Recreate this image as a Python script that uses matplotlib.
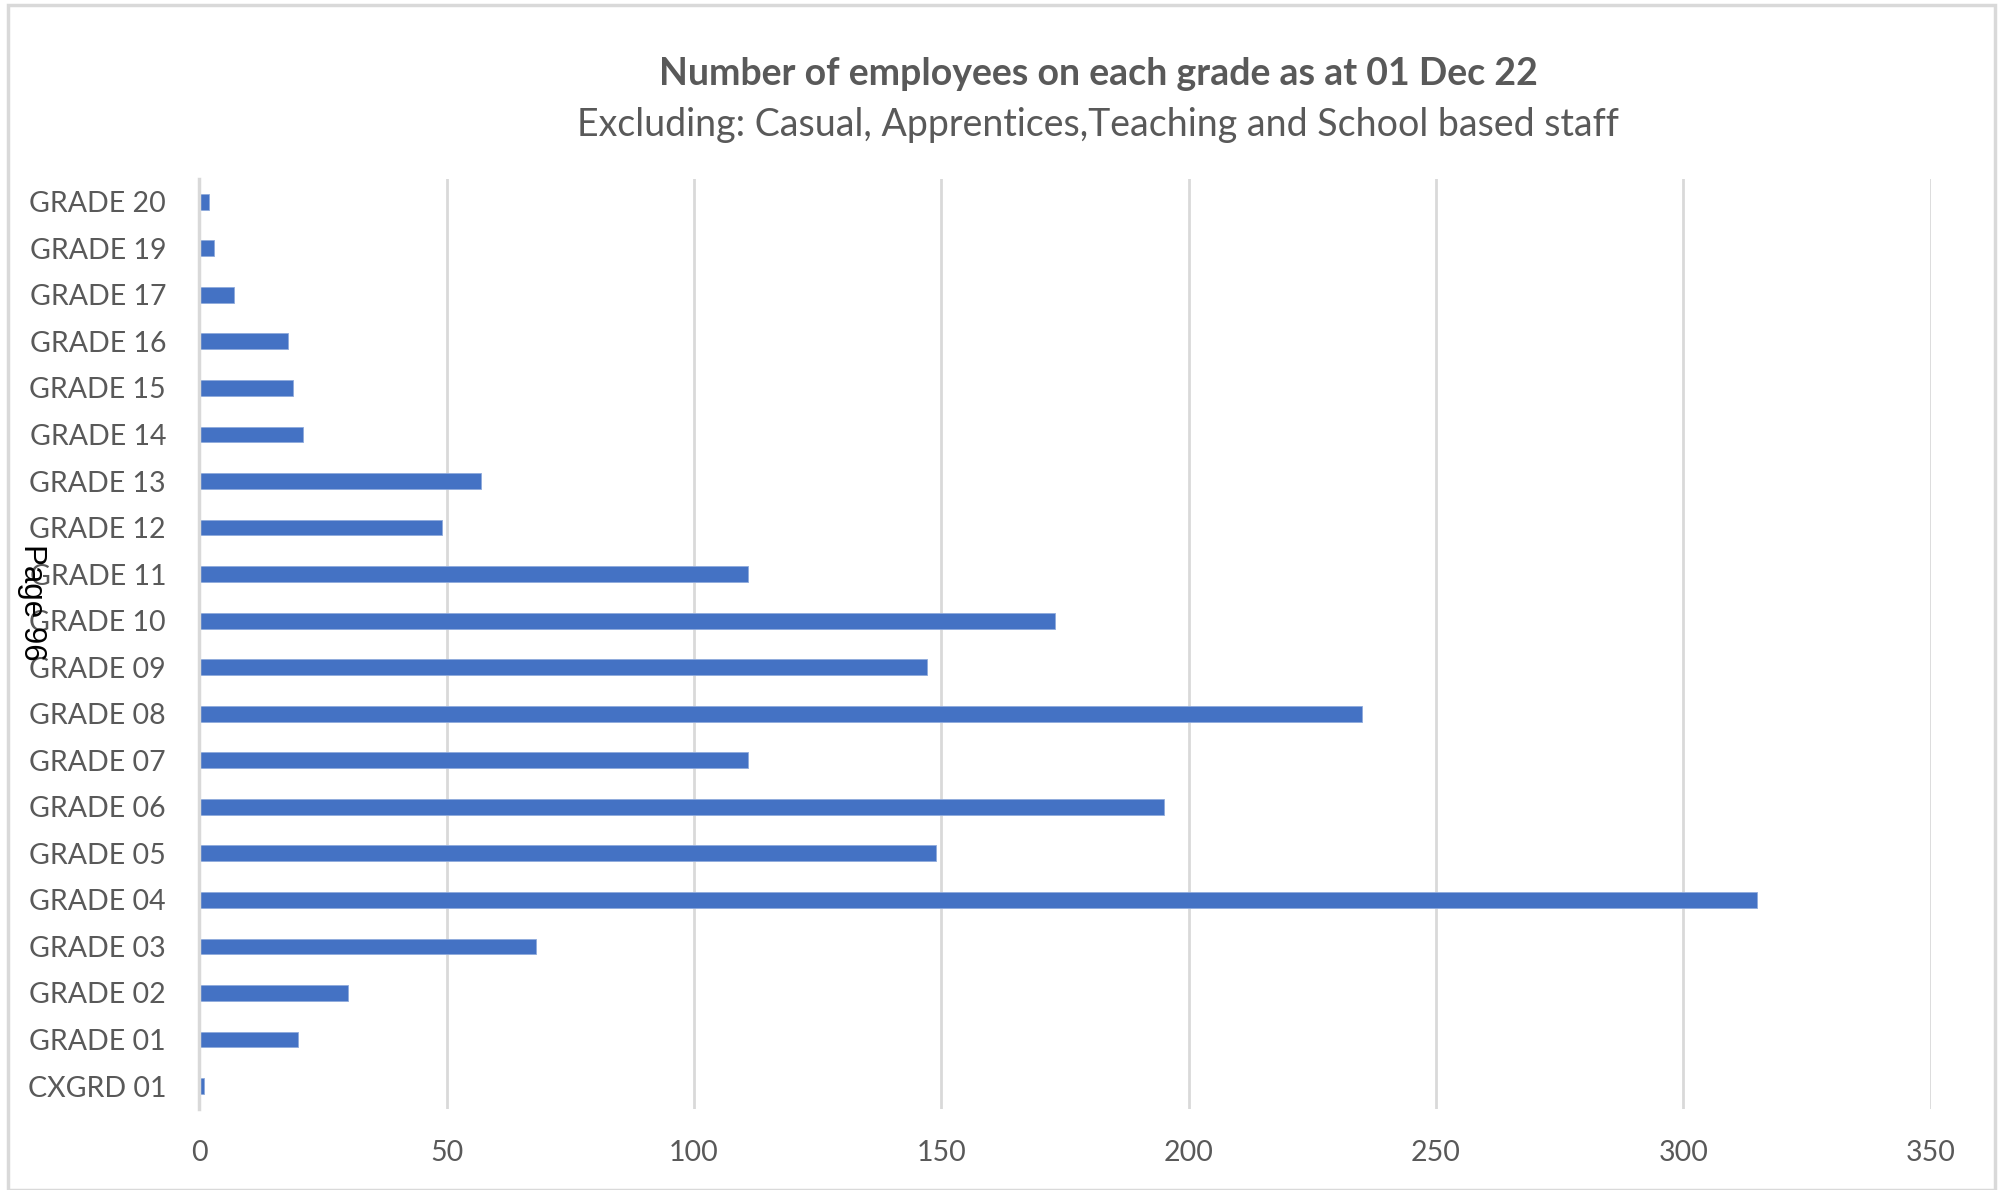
import matplotlib
matplotlib.use("Agg")
import matplotlib.pyplot as plt
from matplotlib.patches import Rectangle

# Headcount per grade (bottom to top as drawn)
grades = ["CXGRD 01", "GRADE 01", "GRADE 02", "GRADE 03", "GRADE 04", "GRADE 05",
          "GRADE 06", "GRADE 07", "GRADE 08", "GRADE 09", "GRADE 10", "GRADE 11",
          "GRADE 12", "GRADE 13", "GRADE 14", "GRADE 15", "GRADE 16", "GRADE 17",
          "GRADE 19", "GRADE 20"]
employees = [1, 20, 30, 68, 315, 149, 195, 111, 235, 147, 173, 111,
             49, 57, 21, 19, 18, 7, 3, 2]
x_ticks = [0, 50, 100, 150, 200, 250, 300, 350]

title = "Number of employees on each grade as at 01 Dec 22"
subtitle = "Excluding: Casual, Apprentices,Teaching and School based staff"

text_grey = "#595959"
grid_grey = "#d9d9d9"
bar_blue = "#4472C4"

plt.rcParams["font.family"] = ["Lato", "DejaVu Sans"]

fig = plt.figure(figsize=(20, 11.9), dpi=100)
ax = fig.add_axes([0.0997, 0.0678, 0.8656, 0.7822])

ypos = list(range(len(grades)))
ax.barh(ypos, employees, height=0.34, color=bar_blue, edgecolor="#8faadc",
        linewidth=0.6, zorder=3)

ax.set_xlim(0, 350)
ax.set_ylim(-0.5, len(grades) - 0.5)
ax.set_xticks(x_ticks)
ax.set_xticklabels([str(v) for v in x_ticks])
ax.set_yticks(ypos)
ax.set_yticklabels(grades)

ax.tick_params(axis="both", length=0, labelsize=20.5, colors=text_grey)
ax.tick_params(axis="y", pad=24)
ax.tick_params(axis="x", pad=22)

ax.grid(axis="x", color=grid_grey, linewidth=2, zorder=0)
for side in ["top", "right", "bottom"]:
    ax.spines[side].set_visible(False)
ax.spines["left"].set_color(grid_grey)
ax.spines["left"].set_linewidth(2.5)
ax.spines["left"].set_zorder(4)

fig.text(0.549, 0.938, title, ha="center", va="center", fontsize=27,
         fontweight="bold", color=text_grey)
fig.text(0.549, 0.895, subtitle, ha="center", va="center", fontsize=27,
         color=text_grey)

# Chart frame
fig.patches.append(Rectangle((0.004, 0.0), 0.9935, 0.9955, transform=fig.transFigure,
                             fill=False, edgecolor=grid_grey, linewidth=2.5))

# Page marker
fig.text(0.016, 0.494, "Page 96", rotation=-90, ha="center", va="center",
         fontsize=22.5, color="black", family=["Liberation Sans", "DejaVu Sans"])

fig.savefig("out.png", dpi=100, facecolor="white")
